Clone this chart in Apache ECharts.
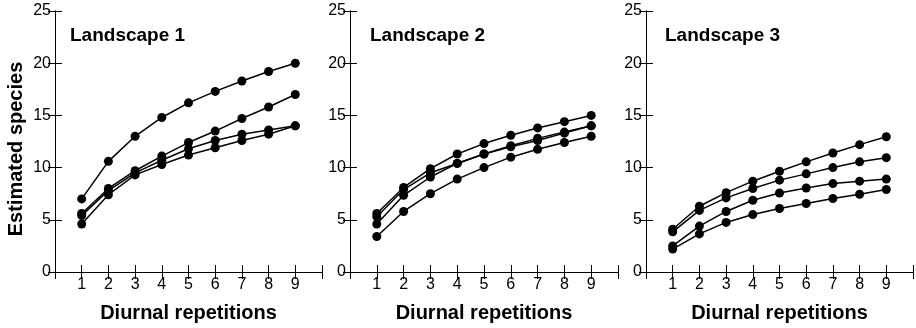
<!DOCTYPE html>
<html>
<head>
<meta charset="utf-8">
<script src="https://cdn.jsdelivr.net/npm/echarts@6/dist/echarts.min.js"></script>
<style>
  html, body { margin: 0; padding: 0; background: #fff; }
  #main { width: 916px; height: 328px; }
</style>
</head>
<body>
<div id="main"></div>
<script>
// repetitions 1..9
var repetitions = [1, 2, 3, 4, 5, 6, 7, 8, 9];
var yTicks = [0, 5, 10, 15, 20, 25];
var panelTitles = ['Landscape 1', 'Landscape 2', 'Landscape 3'];

// Landscape 1
var land1_a = [7.0, 10.6, 13.0, 14.8, 16.2, 17.3, 18.3, 19.2, 20.0];
var land1_b = [5.6, 8.0, 9.7, 11.1, 12.4, 13.5, 14.7, 15.8, 17.0];
var land1_c = [5.4, 7.8, 9.5, 10.7, 11.8, 12.6, 13.2, 13.6, 14.0];
var land1_d = [4.6, 7.4, 9.3, 10.3, 11.2, 11.9, 12.6, 13.2, 14.0];

// Landscape 2
var land2_a = [5.6, 8.1, 9.9, 11.3, 12.3, 13.1, 13.8, 14.4, 15.0];
var land2_b = [5.3, 7.9, 9.5, 10.4, 11.3, 12.1, 12.8, 13.4, 14.0];
var land2_c = [4.6, 7.35, 9.1, 10.4, 11.3, 12.0, 12.6, 13.3, 14.0];
var land2_d = [3.4, 5.8, 7.5, 8.9, 10.0, 11.0, 11.75, 12.4, 13.0];

// Landscape 3
var land3_a = [4.1, 6.3, 7.6, 8.7, 9.65, 10.55, 11.4, 12.2, 12.95];
var land3_b = [3.85, 5.9, 7.1, 8.0, 8.8, 9.4, 10.0, 10.55, 10.95];
var land3_c = [2.5, 4.4, 5.8, 6.87, 7.57, 8.05, 8.47, 8.7, 8.9];
var land3_d = [2.2, 3.65, 4.75, 5.5, 6.08, 6.56, 7.04, 7.45, 7.9];

var panels = [
    [land1_a, land1_b, land1_c, land1_d],
    [land2_a, land2_b, land2_c, land2_d],
    [land3_a, land3_b, land3_c, land3_d]
];

var gridLeft = [55, 350, 646];
var gridWidth = [267, 268, 268];
var font = '"Liberation Sans", Arial, sans-serif';

var chart = echarts.init(document.getElementById('main'));

var grids = [], xAxes = [], yAxes = [], series = [], titles = [];

for (let p = 0; p < 3; p++) {
    grids.push({left: gridLeft[p], top: 11, width: gridWidth[p], height: 261, containLabel: false});

    // bottom x axis (labels + name)
    xAxes.push({
        type: 'value', gridIndex: p, position: 'bottom', min: 0, max: 10, interval: 1,
        axisLine: {show: true, lineStyle: {color: '#000', width: 1}},
        axisTick: {show: true, inside: true, length: 7, lineStyle: {color: '#000'}},
        axisLabel: {
            color: '#000', fontSize: 16, fontFamily: font, margin: 5,
            formatter: function (v) { return repetitions.indexOf(v) >= 0 ? String(v) : ''; }
        },
        splitLine: {show: false},
        name: 'Diurnal repetitions', nameLocation: 'middle', nameGap: 31,
        nameTextStyle: {color: '#000', fontSize: 20, fontWeight: 'bold', fontFamily: font}
    });
    // top mirror axis
    xAxes.push({
        type: 'value', gridIndex: p, position: 'top', min: 0, max: 10, interval: 1,
        axisLine: {show: true, lineStyle: {color: '#000', width: 1}},
        axisTick: {show: true, inside: true, length: 7, lineStyle: {color: '#000'}},
        axisLabel: {show: false}, splitLine: {show: false}
    });

    // left y axis
    yAxes.push({
        type: 'value', gridIndex: p, position: 'left', min: 0, max: 25, interval: 5,
        axisLine: {show: true, lineStyle: {color: '#000', width: 1}},
        axisTick: {show: true, inside: true, length: 7, lineStyle: {color: '#000'}},
        axisLabel: {color: '#000', fontSize: 16, fontFamily: font, margin: 4},
        splitLine: {show: false}
    });
    // right mirror axis
    yAxes.push({
        type: 'value', gridIndex: p, position: 'right', min: 0, max: 25, interval: 5,
        axisLine: {show: true, lineStyle: {color: '#000', width: 1}},
        axisTick: {show: true, inside: true, length: 7, lineStyle: {color: '#000'}},
        axisLabel: {show: false}, splitLine: {show: false}
    });

    panels[p].forEach(function (vals) {
        series.push({
            type: 'line',
            xAxisIndex: p * 2, yAxisIndex: p * 2,
            data: repetitions.map(function (r, i) { return [r, vals[i]]; }),
            symbol: 'circle', symbolSize: 9,
            itemStyle: {color: '#000'},
            lineStyle: {color: '#000', width: 1.5},
            animation: false, silent: true
        });
    });

    titles.push({
        text: panelTitles[p],
        padding: 0,
        left: gridLeft[p] + (p === 0 ? 15 : (p === 1 ? 20 : 19)), top: 26,
        textStyle: {color: '#000', fontSize: 19, fontWeight: 'bold', fontFamily: font}
    });
}

chart.setOption({
    backgroundColor: '#fff',
    animation: false,
    title: titles,
    grid: grids,
    xAxis: xAxes,
    yAxis: yAxes,
    series: series,
    graphic: [{
        type: 'text',
        x: 16, y: 149,
        rotation: Math.PI / 2,
        style: {
            text: 'Estimated species',
            fill: '#000',
            font: 'bold 20px ' + font,
            align: 'center', verticalAlign: 'middle',
            textAlign: 'center', textVerticalAlign: 'middle'
        }
    }]
});
</script>
</body>
</html>
